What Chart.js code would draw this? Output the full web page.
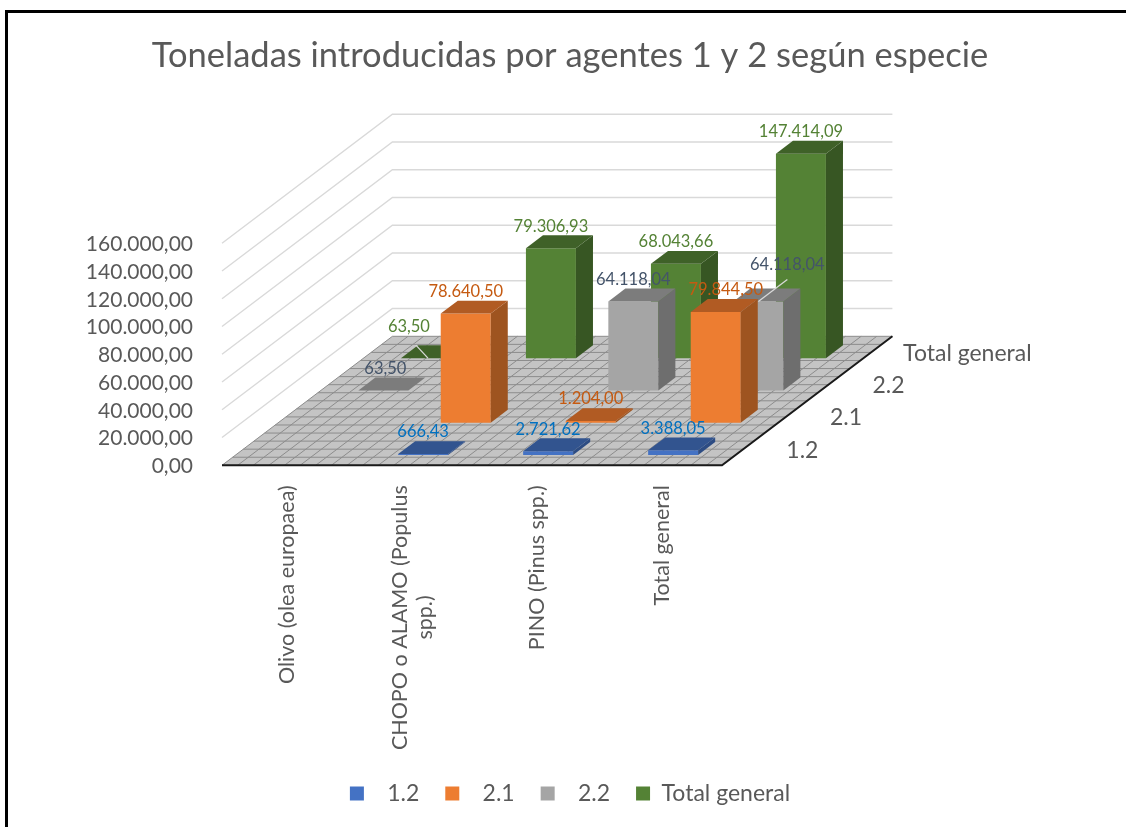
<!DOCTYPE html>
<html lang="es">
<head>
<meta charset="utf-8">
<title>Toneladas introducidas por agentes 1 y 2 según especie</title>
<script src="https://cdn.jsdelivr.net/npm/chart.js@4"></script>
<style>
html,body{margin:0;padding:0;background:#fff;overflow:hidden;width:1126px;height:827px}
#frame{position:absolute;left:5px;top:10px;width:1200px;height:900px;border-left:3px solid #000;border-top:3px solid #000;box-sizing:border-box}
canvas{position:absolute;left:0;top:0}
</style>
</head>
<body>
<div id="frame"></div>
<canvas id="c" width="1140" height="815"></canvas>
<script>
const titleText = 'Toneladas introducidas por agentes 1 y 2 según especie';
const categories = ['Olivo (olea europaea)', 'CHOPO o ALAMO (Populus spp.)', 'PINO (Pinus spp.)', 'Total general'];
const seriesNames = ['1.2', '2.1', '2.2', 'Total general'];
const values12 = [null, 666.43, 2721.62, 3388.05];
const values21 = [null, 78640.50, 1204.00, 79844.50];
const values22 = [63.50, null, 64118.04, 64118.04];
const valuesTotal = [63.50, 79306.93, 68043.66, 147414.09];
const axisMax = 160000;
const axisStep = 20000;

const COLORS = [
  {front:'#4472C4', side:'#2D4C83', top:'#32548F', text:'#0070C0'},
  {front:'#ED7D31', side:'#9E5420', top:'#B15B23', text:'#C55A11'},
  {front:'#A5A5A5', side:'#6E6E6E', top:'#7C7C7C', text:'#44546A'},
  {front:'#548235', side:'#375623', top:'#3F6128', text:'#548235'}
];
const TEXT = '#595959';
const DEPTH_DX = 42.6, DEPTH_DY = 32.25;   // one series row on the floor
const ROW_GAP = 0.32, ROW_BAR = 0.4;       // share of a row before the bar, and bar depth
const LABEL_RISE = 22;
// [dataset][category] -> label shift from the usual place; optional leader line
const LABEL_NUDGE = {'1:3':[10,0], '2:0':[2,0], '2:3':[29,-15], '3:0':[-17,-9]};
const LEADERS = {'2:3':[0,0,29,-22], '3:0':[2,0,-10,-13]};
const ROW_LABEL_GAP = [43,44,44,32];

function esNumber(v){
  const [i,d] = Number(v).toFixed(2).split('.');
  return i.replace(/\B(?=(\d{3})+(?!\d))/g,'.') + ',' + d;
}
function rowShift(i){ return {x:(i+ROW_GAP)*DEPTH_DX, y:-(i+ROW_GAP)*DEPTH_DY}; }

const stage3d = {
  id:'stage3d',
  beforeDraw(chart){
    // centre the two-line tick on its category, as the reference does
    chart.scales.x.getLabelItems().forEach(item=>{
      if (Array.isArray(item.label) && !item.centred){
        item.textOffset -= (item.label.length-1)*item.font.lineHeight/2;
        item.centred = true;
      }
    });
  },
  beforeDatasetsDraw(chart){
    const {ctx, chartArea:a, scales:{y}} = chart;
    const n = seriesNames.length, bx = n*DEPTH_DX, by = n*DEPTH_DY;
    ctx.save();
    // walls
    ctx.strokeStyle = '#D9D9D9'; ctx.lineWidth = 1.4;
    y.ticks.forEach(t=>{
      const py = y.getPixelForValue(t.value);
      if (t.value === 0) return;
      ctx.beginPath(); ctx.moveTo(a.left,py); ctx.lineTo(a.left+bx,py-by); ctx.lineTo(a.right+bx,py-by); ctx.stroke();
    });
    // floor
    const fy = y.getPixelForValue(0);
    ctx.fillStyle = '#C4C4C4';
    ctx.beginPath(); ctx.moveTo(a.left,fy); ctx.lineTo(a.right,fy); ctx.lineTo(a.right+bx,fy-by); ctx.lineTo(a.left+bx,fy-by); ctx.closePath(); ctx.fill();
    ctx.strokeStyle = '#8C8C8C'; ctx.lineWidth = 1;
    const rows = n*4, cols = categories.length*8;
    for(let r=0;r<=rows;r++){
      const f=r/rows; ctx.beginPath(); ctx.moveTo(a.left+bx*f,fy-by*f); ctx.lineTo(a.right+bx*f,fy-by*f); ctx.stroke();
    }
    for(let c=0;c<=cols;c++){
      const px=a.left+(a.right-a.left)*c/cols; ctx.beginPath(); ctx.moveTo(px,fy); ctx.lineTo(px+bx,fy-by); ctx.stroke();
    }
    ctx.strokeStyle = '#1A1A1A'; ctx.lineWidth = 2;
    ctx.beginPath(); ctx.moveTo(a.left,fy); ctx.lineTo(a.right,fy); ctx.lineTo(a.right+bx,fy-by); ctx.stroke();
    // row axis labels
    ctx.fillStyle = TEXT; ctx.font = '23px Lato'; ctx.textAlign='left'; ctx.textBaseline='middle';
    seriesNames.forEach((name,i)=>{
      ctx.fillText(name, a.right+(i+0.5)*DEPTH_DX+ROW_LABEL_GAP[i], fy-(i+0.5)*DEPTH_DY+1);
    });
    ctx.restore();
  },
  beforeDatasetDraw(chart,args){
    const s = rowShift(args.index);
    chart.ctx.save();
    chart.ctx.translate(s.x,s.y);
  },
  afterDatasetDraw(chart,args){
    const ctx = chart.ctx, col = COLORS[args.index];
    const ddx = ROW_BAR*DEPTH_DX, ddy = ROW_BAR*DEPTH_DY;
    const vals = chart.data.datasets[args.index].data;
    args.meta.data.forEach((el,k)=>{
      if (vals[k] == null) return;
      const {x,y,base,width} = el.getProps(['x','y','base','width'],true);
      const l=x-width/2, r=x+width/2;
      ctx.fillStyle = col.side;
      ctx.beginPath(); ctx.moveTo(r,y); ctx.lineTo(r+ddx,y-ddy); ctx.lineTo(r+ddx,base-ddy); ctx.lineTo(r,base); ctx.closePath(); ctx.fill();
      ctx.fillStyle = col.top;
      ctx.beginPath(); ctx.moveTo(l,y); ctx.lineTo(r,y); ctx.lineTo(r+ddx,y-ddy); ctx.lineTo(l+ddx,y-ddy); ctx.closePath(); ctx.fill();
    });
    ctx.restore();
  },
  afterDatasetsDraw(chart){
    const ctx = chart.ctx;
    ctx.save();
    ctx.font = '16.5px Lato'; ctx.textAlign='center'; ctx.textBaseline='middle';
    chart.data.datasets.forEach((ds,i)=>{
      const meta = chart.getDatasetMeta(i), s = rowShift(i);
      ds.data.forEach((v,k)=>{
        if (v == null) return;
        const el = meta.data[k], ax = el.x+s.x, ay = el.y+s.y;
        const key = i+':'+k, leader = LEADERS[key], nudge = LABEL_NUDGE[key] || [0,0];
        if (leader){
          ctx.strokeStyle='#D9D9D9'; ctx.lineWidth=1.3;
          ctx.beginPath(); ctx.moveTo(ax+leader[0],ay+leader[1]); ctx.lineTo(ax+leader[2],ay+leader[3]); ctx.stroke();
        }
        ctx.fillStyle = COLORS[i].text;
        ctx.fillText(esNumber(v), ax+nudge[0], ay-LABEL_RISE+nudge[1]);
      });
    });
    ctx.restore();
  }
};

Chart.defaults.font.family = 'Lato';
Chart.defaults.color = TEXT;

new Chart(document.getElementById('c'),{
  type:'bar',
  data:{
    labels:categories,
    datasets:[values12,values21,values22,valuesTotal].map((data,i)=>({
      label:seriesNames[i], data,
      backgroundColor:COLORS[i].front, borderWidth:0,
      grouped:false, barPercentage:0.4, categoryPercentage:1, clip:false
    }))
  },
  options:{
    responsive:false, animation:false,
    layout:{padding:{top:35.3,left:0,right:0,bottom:0}},
    events:[],
    plugins:{
      tooltip:{enabled:false},
      title:{display:true,text:titleText,color:TEXT,font:{size:34.5,weight:'normal'},padding:{top:0,bottom:166.6}},
      legend:{
        position:'bottom',
        labels:{
          boxWidth:14,boxHeight:14,padding:26,font:{size:23},color:TEXT,
          generateLabels(chart){
            return Chart.defaults.plugins.legend.labels.generateLabels(chart).map(item=>{
              item.text = item.text.length<4 ? '  '+item.text : item.text;
              item.lineWidth = 0;
              return item;
            });
          }
        }
      }
    },
    scales:{
      x:{
        grid:{display:false},border:{display:false},
        afterFit(s){ s.height = 290.7; },
        ticks:{
          minRotation:90,maxRotation:90,padding:12,autoSkip:false,labelOffset:3,font:{size:21.5},color:TEXT,
          callback(v){
            const t=this.getLabelForValue(v);
            if (t.length>24){
              const i=t.lastIndexOf(' ');
              return [t.slice(0,i), t.slice(i+1)+'\u00A0'.repeat(20)];
            }
            return t;
          }
        }
      },
      y:{
        min:0,max:axisMax,
        grid:{display:false},border:{display:false},
        afterFit(s){ s.width = 222; },
        ticks:{stepSize:axisStep,autoSkip:false,padding:21,labelOffset:1,font:{size:21},color:TEXT,callback:v=>esNumber(v)}
      },
      depthSpace:{
        type:'linear',position:'right',min:0,max:axisMax,
        grid:{display:false},border:{display:false},ticks:{display:false},
        afterFit(s){ s.width = 418; }
      }
    }
  },
  plugins:[stage3d]
});
</script>
</body>
</html>
